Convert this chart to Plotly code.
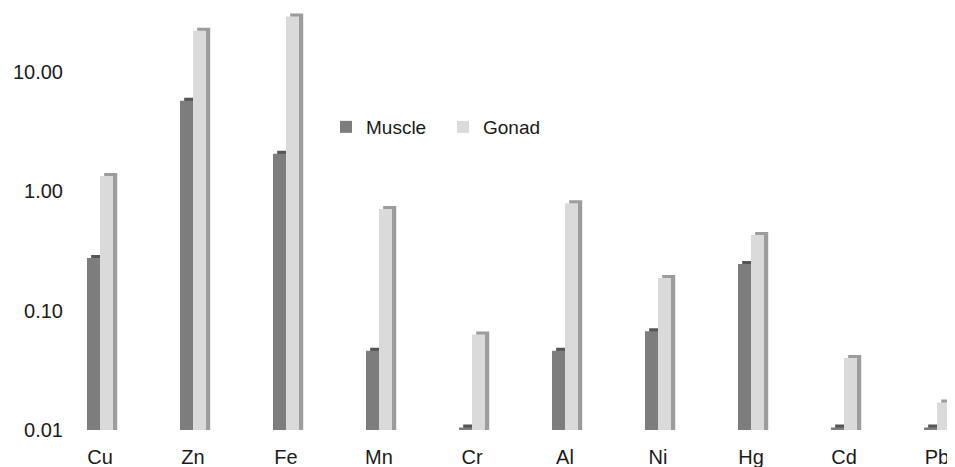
import plotly.graph_objects as go

elements = ["Cu", "Zn", "Fe", "Mn", "Cr", "Al", "Ni", "Hg", "Cd", "Pb"]
muscle = [0.275, 5.7, 2.06, 0.046, 0.0105, 0.046, 0.067, 0.245, 0.0105, 0.0105]
gonad = [1.34, 22.0, 29.0, 0.71, 0.063, 0.79, 0.187, 0.43, 0.040, 0.017]

tick_vals = [0.01, 0.1, 1, 10]
tick_text = ["0.01", "0.10", "1.00", "10.00"]

BW = 0.14      # bar width (category units)
DX = 0.045     # 3D depth offset (category units)
LIFT = 1.06    # 3D depth lift on log scale

font = dict(family="Liberation Sans, Arial, sans-serif", size=20, color="#1a1a1a")

fig = go.Figure()
# side/top faces (drawn behind)
fig.add_trace(go.Bar(x=elements, y=[v * LIFT for v in muscle], offset=-BW + DX, width=BW,
                     marker=dict(color="#555555", line_width=0), showlegend=False, hoverinfo="skip"))
fig.add_trace(go.Bar(x=elements, y=muscle, offset=-BW, width=BW, name="Muscle",
                     marker=dict(color="#7d7d7d", line_width=0)))
fig.add_trace(go.Bar(x=elements, y=[v * LIFT for v in gonad], offset=DX, width=BW,
                     marker=dict(color="#9c9c9c", line_width=0), showlegend=False, hoverinfo="skip"))
fig.add_trace(go.Bar(x=elements, y=gonad, offset=0, width=BW, name="Gonad",
                     marker=dict(color="#dadada", line_width=0)))

# page body has an 8px margin; figure sized to fit the remaining window
W, H = 947, 459
L, T, PH = 56, 4, 418
plot_w = W - L
cat_px = 93.0
left_units = (92 - L) / cat_px

fig.update_layout(
    width=W, height=H,
    barmode="overlay",
    margin=dict(l=L, r=0, t=T, b=H - T - PH),
    paper_bgcolor="white", plot_bgcolor="white",
    font=font,
    showlegend=True,
    legend=dict(orientation="h", x=(318 - L) / plot_w, y=(T + PH - 119) / PH, yanchor="middle",
                xanchor="left", bgcolor="rgba(0,0,0,0)", font=dict(size=19),
                entrywidth=72, entrywidthmode="pixels"),
    xaxis=dict(type="category", range=[-left_units, -left_units + plot_w / cat_px],
               showgrid=False, showline=False, zeroline=False,
               ticks="outside", ticklen=9, tickcolor="white"),
    yaxis=dict(type="log", range=[-2, 1.5], tickvals=tick_vals, ticktext=tick_text,
               showgrid=False, showline=False, zeroline=False),
)

fig.write_html("out.html")
